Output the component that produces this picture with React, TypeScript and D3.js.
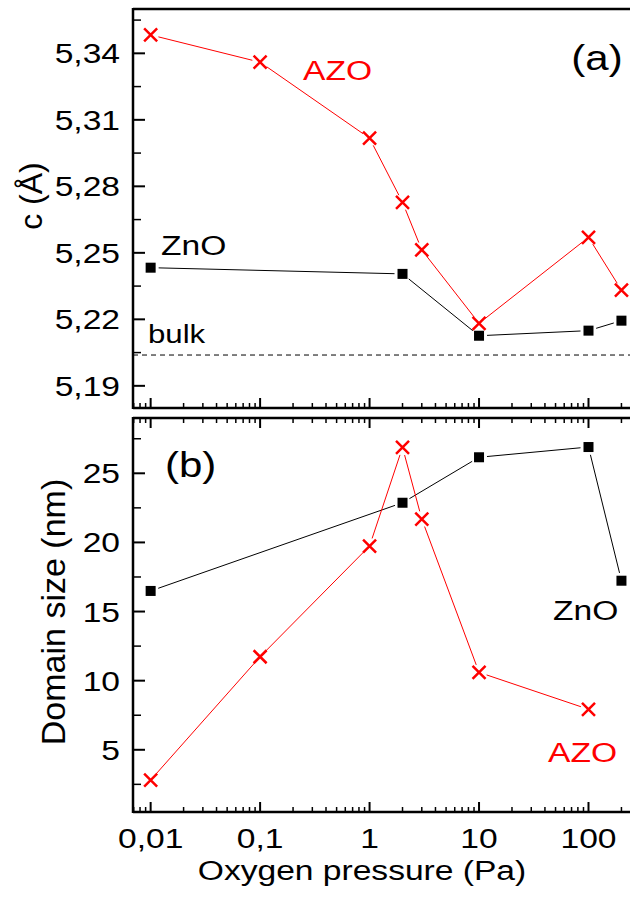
import React, { useRef, useEffect } from "react";
import * as d3 from "d3";

// (a) lattice parameter c (Å)
const pressureAZO = [0.01, 0.1, 1, 2, 3, 10, 100, 200];
const latticeAZO = [5.3483, 5.336, 5.3017, 5.2728, 5.2513, 5.2182, 5.257, 5.2332];
const pressureZnO = [0.01, 2, 10, 100, 200];
const latticeZnO = [5.2433, 5.2405, 5.2126, 5.2149, 5.2194];
const bulkC = 5.2039;

// (b) domain size (nm)
const pressureAZOb = [0.01, 0.1, 1, 2, 3, 10, 100];
const domainAZO = [2.81, 11.73, 19.74, 26.88, 21.69, 10.6, 7.93];
const domainZnO = [16.49, 22.87, 26.16, 26.9, 17.23];

const xTicks = [0.01, 0.1, 1, 10, 100];
const cTicks = [5.19, 5.22, 5.25, 5.28, 5.31, 5.34];
const domainTicks = [5, 10, 15, 20, 25];

const FONT = "'Liberation Sans', Arial, sans-serif";
const SX = 1.2; // the glyphs in the original are a bit wide
const RED = "#ff0000";

export default function App() {
  const ref = useRef<SVGSVGElement>(null);

  useEffect(() => {
    const svg = d3.select(ref.current);
    svg.selectAll("*").remove();

    const left = 133, right = 660;
    const x = d3.scaleLog().domain([0.0069, 450]).range([left, right]);
    const yA = d3.scaleLinear().domain([5.18, 5.36]).range([408, 9]);
    const yB = d3.scaleLinear().domain([0.5, 29]).range([812, 418]);
    const comma = (v: number) => String(v).replace(".", ",");

    const minorX: number[] = [];
    for (let e = -3; e <= 2; e++)
      for (let k = 2; k <= 9; k++) {
        const v = k * Math.pow(10, e);
        if (v > 0.0069 && v < 450) minorX.push(v);
      }

    const label = (xx: number, yy: number, str: string, size: number, color = "#000", anchor = "start") =>
      svg.append("text")
        .attr("transform", `translate(${xx},${yy}) scale(${SX},1)`)
        .attr("text-anchor", anchor)
        .style("font-family", FONT)
        .style("font-size", size + "px")
        .style("fill", color)
        .text(str);

    const hline = (yy: number, w = 2.5) =>
      svg.append("line").attr("x1", left).attr("x2", right).attr("y1", yy).attr("y2", yy)
        .attr("stroke", "#000").attr("stroke-width", w);

    // x ticks along a horizontal axis, dir = -1 pointing up, +1 pointing down
    const xTickMarks = (yy: number, dir: number) => {
      const g = svg.append("g").attr("stroke", "#000");
      g.selectAll("line.maj").data(xTicks).enter().append("line")
        .attr("x1", d => x(d)).attr("x2", d => x(d))
        .attr("y1", yy).attr("y2", yy + dir * 10).attr("stroke-width", 2);
      g.selectAll("line.min").data(minorX).enter().append("line")
        .attr("x1", d => x(d)).attr("x2", d => x(d))
        .attr("y1", yy).attr("y2", yy + dir * 5).attr("stroke-width", 1.5);
    };

    const yAxis = (y: d3.ScaleLinear<number, number>, ticks: number[], minor: number[], fmt: (v: number) => string) => {
      const [b, t] = y.range();
      svg.append("line").attr("x1", left).attr("x2", left).attr("y1", b + 1).attr("y2", t - 1)
        .attr("stroke", "#000").attr("stroke-width", 2.5);
      svg.append("g").selectAll("line").data(ticks).enter().append("line")
        .attr("x1", left).attr("x2", left + 12).attr("y1", d => y(d)).attr("y2", d => y(d))
        .attr("stroke", "#000").attr("stroke-width", 2);
      svg.append("g").selectAll("line").data(minor).enter().append("line")
        .attr("x1", left).attr("x2", left + 8).attr("y1", d => y(d)).attr("y2", d => y(d))
        .attr("stroke", "#000").attr("stroke-width", 1.5);
      ticks.forEach(t => label(120, y(t) + 10, fmt(t), 28, "#000", "end"));
    };

    // Origin-style connecting line: segments stop short of the markers
    const gapLine = (pts: [number, number][], color: string, gap = 8) => {
      for (let i = 0; i < pts.length - 1; i++) {
        const [x1, y1] = pts[i], [x2, y2] = pts[i + 1];
        const L = Math.hypot(x2 - x1, y2 - y1);
        if (L <= 2 * gap) continue;
        const ux = (x2 - x1) / L, uy = (y2 - y1) / L;
        svg.append("line")
          .attr("x1", x1 + ux * gap).attr("y1", y1 + uy * gap)
          .attr("x2", x2 - ux * gap).attr("y2", y2 - uy * gap)
          .attr("stroke", color).attr("stroke-width", 1);
      }
    };

    const crosses = (pts: [number, number][]) =>
      svg.append("g").selectAll("path").data(pts).enter().append("path")
        .attr("transform", d => `translate(${d[0]},${d[1]})`)
        .attr("d", "M-6.5,-6.5L6.5,6.5M-6.5,6.5L6.5,-6.5")
        .attr("stroke", RED).attr("stroke-width", 2.5).attr("fill", "none");

    const squares = (pts: [number, number][]) =>
      svg.append("g").selectAll("rect").data(pts).enter().append("rect")
        .attr("x", d => d[0] - 5).attr("y", d => d[1] - 5)
        .attr("width", 10).attr("height", 10).attr("fill", "#000");

    // ---- panel (a)
    hline(9);
    hline(408);
    xTickMarks(408, -1);
    yAxis(yA, cTicks, cTicks.map(t => t + 0.015), v => comma(+v.toFixed(2)).padEnd(4, "0"));

    svg.append("line").attr("x1", left).attr("x2", right)
      .attr("y1", yA(bulkC)).attr("y2", yA(bulkC))
      .attr("stroke", "#000").attr("stroke-width", 1).attr("stroke-dasharray", "5,4");

    const aZnO = pressureZnO.map((p, i) => [x(p), yA(latticeZnO[i])] as [number, number]);
    const aAZO = pressureAZO.map((p, i) => [x(p), yA(latticeAZO[i])] as [number, number]);
    gapLine(aZnO, "#000");
    gapLine(aAZO, RED);
    squares(aZnO);
    crosses(aAZO);

    label(303, 80, "AZO", 28, RED);
    label(161, 255, "ZnO", 28);
    label(148, 343, "bulk", 26);
    label(597, 70, "(a)", 35, "#000", "middle");

    // ---- panel (b)
    hline(418);
    hline(812);
    xTickMarks(418, 1);
    xTickMarks(812, -1);
    yAxis(yB, domainTicks, [2.5, 7.5, 12.5, 17.5, 22.5, 27.5], v => String(v));

    const bZnO = pressureZnO.map((p, i) => [x(p), yB(domainZnO[i])] as [number, number]);
    const bAZO = pressureAZOb.map((p, i) => [x(p), yB(domainAZO[i])] as [number, number]);
    gapLine(bZnO, "#000");
    gapLine(bAZO, RED);
    squares(bZnO);
    crosses(bAZO);

    label(165, 477, "(b)", 35);
    label(553, 620, "ZnO", 28);
    label(548, 762, "AZO", 28, RED);

    // x axis labels
    xTicks.forEach(t => label(x(t), 848, comma(t), 28, "#000", "middle"));
    label(362, 880, "Oxygen pressure (Pa)", 28, "#000", "middle");

    // y titles (rotated)
    svg.append("text")
      .attr("transform", "translate(42,196) rotate(-90)")
      .attr("text-anchor", "middle")
      .style("font-family", FONT).style("font-size", "32px")
      .text("c (Å)");
    svg.append("text")
      .attr("transform", "translate(65,612) rotate(-90)")
      .attr("text-anchor", "middle")
      .style("font-family", FONT).style("font-size", "34px")
      .text("Domain size (nm)");
  }, []);

  return (
    <svg ref={ref} width={630} height={905}
      style={{ position: "absolute", left: 0, top: 0, background: "#fff", overflow: "hidden" }} />
  );
}
